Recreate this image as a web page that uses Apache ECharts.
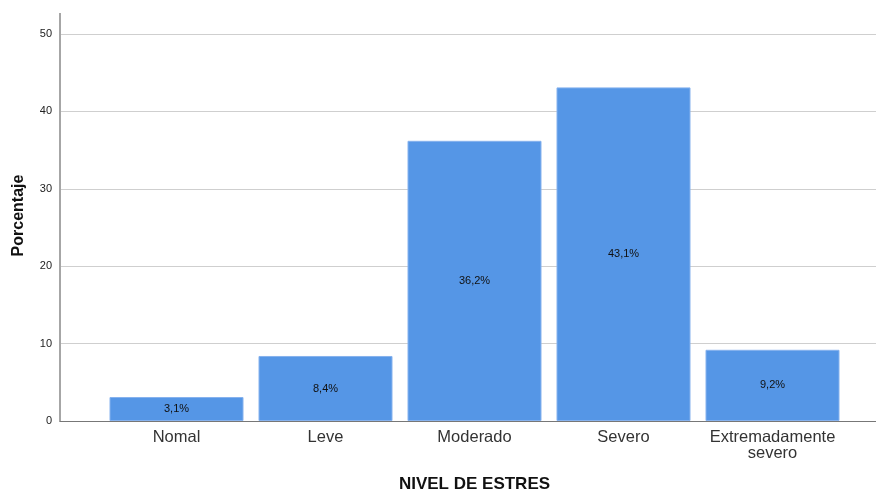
<!DOCTYPE html>
<html>
<head>
<meta charset="utf-8">
<script src="https://cdn.jsdelivr.net/npm/echarts@6/dist/echarts.min.js"></script>
<style>
  html, body { margin: 0; padding: 0; background: #fff; }
  #chart { width: 876px; height: 490px; }
</style>
</head>
<body>
<div id="chart"></div>
<script>
// Stress levels and the share of respondents in each
const categories = ['Nomal', 'Leve', 'Moderado', 'Severo', 'Extremadamente\nsevero'];
const percentages = [3.1, 8.4, 36.2, 43.1, 9.2];
const yTicks = { min: 0, max: 50, interval: 10 };

const FONT = '"Liberation Sans", Arial, sans-serif';
const chart = echarts.init(document.getElementById('chart'), null, { renderer: 'canvas' });

chart.setOption({
  animation: false,
  textStyle: { fontFamily: FONT },
  grid: [
    // bars
    { left: 102, right: 29, top: 34, bottom: 69, outerBoundsMode: 'none', containLabel: false },
    // frame: axis line, gridlines and baseline spanning the full width
    { left: 60, right: 0, top: 34, bottom: 69, outerBoundsMode: 'none', containLabel: false }
  ],
  xAxis: [
    {
      gridIndex: 0,
      type: 'category',
      data: categories,
      axisLine: { show: false },
      axisTick: { show: false },
      axisLabel: { color: '#333', fontSize: 16.5, margin: 8, lineHeight: 16, fontFamily: FONT, interval: 0 },
      name: 'NIVEL DE ESTRES',
      nameLocation: 'middle',
      nameGap: 55,
      nameTextStyle: { color: '#111', fontSize: 17, fontWeight: 'bold', fontFamily: FONT }
    },
    {
      gridIndex: 1,
      type: 'value',
      min: 0, max: 1,
      axisLine: { show: true, lineStyle: { color: '#777', width: 1 } },
      axisTick: { show: false },
      axisLabel: { show: false },
      splitLine: { show: false }
    }
  ],
  yAxis: [
    {
      gridIndex: 0,
      type: 'value',
      min: yTicks.min, max: yTicks.max, interval: yTicks.interval,
      show: false
    },
    {
      gridIndex: 1,
      type: 'value',
      min: yTicks.min, max: yTicks.max, interval: yTicks.interval,
      axisLine: { show: true, lineStyle: { color: '#a6a6a6', width: 2 } },
      axisTick: { show: false },
      axisLabel: { color: '#222', fontSize: 11, margin: 8, fontFamily: FONT },
      splitLine: { show: true, lineStyle: { color: '#cfcfcf', width: 1 } },
      name: 'Porcentaje',
      nameLocation: 'middle',
      nameRotate: 90,
      nameGap: 33,
      nameTextStyle: { color: '#111', fontSize: 16, fontWeight: 'bold', fontFamily: FONT, padding: [0, 0, 0, 24] }
    }
  ],
  series: [
    {
      type: 'bar',
      xAxisIndex: 0,
      yAxisIndex: 0,
      data: percentages,
      barWidth: 134,
      itemStyle: { color: '#5596e6', borderColor: '#86b2ee', borderWidth: 1 },
      label: {
        show: true,
        position: 'inside',
        color: '#111',
        fontSize: 11,
        fontFamily: FONT,
        formatter: p => p.value.toFixed(1).replace('.', ',') + '%'
      },
      z: 3
    }
  ],
  graphic: [
    // axis line continues a little above the top tick
    {
      type: 'line',
      shape: { x1: 60, y1: 13, x2: 60, y2: 35 },
      style: { stroke: '#a6a6a6', lineWidth: 2 },
      z: 5
    }
  ]
});
</script>
</body>
</html>
